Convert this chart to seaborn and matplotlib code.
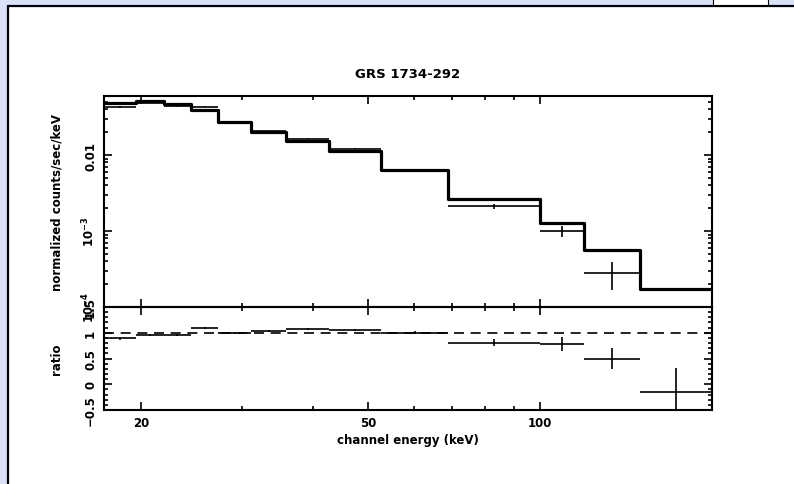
import numpy as np
import pandas as pd
import matplotlib
matplotlib.use("Agg")
import matplotlib.pyplot as plt
from matplotlib.patches import Rectangle
from matplotlib.ticker import FixedLocator, NullFormatter, FixedFormatter
import seaborn as sns

# ---------------- data ----------------
title = "GRS 1734-292"
bin_edges = [17.2, 19.6, 21.9, 24.4, 27.3, 31.1, 35.9, 42.6, 52.7, 68.9, 100.0, 119.3, 149.5, 200.0]
model_counts = [0.0486, 0.0516, 0.0468, 0.0396, 0.0270, 0.0200, 0.0155, 0.0114,
                0.00634, 0.00262, 0.00129, 0.000561, 0.000173]
data_counts = [0.0433, 0.0490, 0.0445, 0.0436, 0.0267, 0.0206, 0.0164, 0.0121,
               0.00634, 0.00212, 0.00101, 0.000280, np.nan]
data_err = [0.0015, 0.0010, 0.0009, 0.0008, 0.0005, 0.0004, 0.0003, 0.0002,
            0.0002, 0.00016, 0.000168, 0.000112, np.nan]
ratio = [0.89, 0.95, 0.95, 1.10, 0.99, 1.03, 1.08, 1.06, 1.00, 0.81, 0.78, 0.50, -0.16]
ratio_err = [0.03, 0.02, 0.02, 0.02, 0.02, 0.02, 0.02, 0.02, 0.03, 0.06, 0.13, 0.20, 0.47]

x_major = [20, 50, 100]
x_major_labels = ["20", "50", "100"]
x_minor = [30, 40, 60, 70, 80, 90, 200]
y1_major = [1e-4, 1e-3, 1e-2]
y1_labels = [r"$\mathbf{10^{-4}}$", r"$\mathbf{10^{-3}}$", "0.01"]
y2_major = [-0.5, 0, 0.5, 1, 1.5]
y2_labels = ["\u22120.5", "0", "0.5", "1", "1.5"]
y2_minor = [-0.4, -0.3, -0.2, -0.1, 0.1, 0.2, 0.3, 0.4, 0.6, 0.7, 0.8, 0.9,
            1.1, 1.2, 1.3, 1.4]

# ---------------- style ----------------
sns.set_theme(style="ticks")
plt.rcParams.update({
    "font.family": ["DejaVu Sans"],
    "font.weight": "bold",
    "axes.labelweight": "bold",
    "axes.titleweight": "bold",
    "axes.linewidth": 1.5,
    "axes.edgecolor": "black",
    "text.color": "black",
    "axes.labelcolor": "black",
    "xtick.color": "black",
    "ytick.color": "black",
    "axes.facecolor": "white",
})

W, H = 794, 485
fig = plt.figure(figsize=(W / 100, H / 100), dpi=100)
fig.patch.set_facecolor("#d9e2f9")
# white inner panel with black frame
fig.add_artist(Rectangle((8 / W, -0.05), 1.2, 1 - 7 / H + 0.05, transform=fig.transFigure,
                         facecolor="white", edgecolor="black", lw=1.6, zorder=-5))
# small box top-right
fig.add_artist(Rectangle((713 / W, 1 - 5.5 / H), 55 / W, 0.05, transform=fig.transFigure,
                         facecolor="white", edgecolor="black", lw=0.8, zorder=-4))

L, R = 104, 712
T1, B1, B2 = 97, 308, 411
ax1 = fig.add_axes([L / W, 1 - B1 / H, (R - L) / W, (B1 - T1) / H])
ax2 = fig.add_axes([L / W, 1 - B2 / H, (R - L) / W, (B2 - B1) / H])

edges = np.array(bin_edges)
centers = np.sqrt(edges[:-1] * edges[1:])
xerr = np.vstack([centers - edges[:-1], edges[1:] - centers])

# model step line
step_df = pd.DataFrame({"energy": edges, "counts": list(model_counts) + [model_counts[-1]]})
sns.lineplot(data=step_df, x="energy", y="counts", ax=ax1, color="black", lw=2.3,
             drawstyle="steps-post", estimator=None, sort=False, zorder=3)
# data crosses
ax1.errorbar(centers, data_counts, xerr=xerr, yerr=data_err, fmt="none",
             ecolor="black", elinewidth=1.2, capsize=0, zorder=4)

ax2.axhline(1.0, color="black", lw=1.2, dashes=(6, 4), zorder=2)
ax2.errorbar(centers, ratio, xerr=xerr, yerr=ratio_err, fmt="none",
             ecolor="black", elinewidth=1.2, capsize=0, zorder=4)

for ax in (ax1, ax2):
    ax.set_xscale("log")
    ax.set_xlim(bin_edges[0], bin_edges[-1])
    ax.xaxis.set_major_locator(FixedLocator(x_major))
    ax.xaxis.set_minor_locator(FixedLocator(x_minor))
    ax.xaxis.set_minor_formatter(NullFormatter())
    ax.tick_params(which="both", direction="in", top=True, right=True,
                   width=1.2, labelsize=8.5, pad=4)
    ax.tick_params(which="major", length=5.5)
    ax.tick_params(which="minor", length=3)
    ax.set_facecolor("none")
    for s in ax.spines.values():
        s.set_linewidth(1.5)

ax1.set_yscale("log")
ax1.set_ylim(1e-4, 0.06)
ax1.yaxis.set_major_locator(FixedLocator(y1_major))
ax1.yaxis.set_major_formatter(FixedFormatter(y1_labels))
ax1.yaxis.set_minor_locator(FixedLocator(
    [m * 10.0 ** e for e in (-4, -3, -2) for m in range(2, 10) if m * 10.0 ** e <= 0.06]))
ax1.yaxis.set_minor_formatter(NullFormatter())
ax1.xaxis.set_major_formatter(NullFormatter())
ax1.set_xlabel("")

ax2.set_ylim(-0.5, 1.5)
ax2.yaxis.set_major_locator(FixedLocator(y2_major))
ax2.yaxis.set_major_formatter(FixedFormatter(y2_labels))
ax2.yaxis.set_minor_locator(FixedLocator(y2_minor))
ax2.xaxis.set_major_formatter(FixedFormatter(x_major_labels))

for ax in (ax1, ax2):
    for lab in ax.get_yticklabels():
        lab.set_rotation(90)
        lab.set_verticalalignment("center")
    ax.tick_params(axis="y", pad=5)

ax1.set_ylabel("normalized counts/sec/keV", fontsize=8.5)
ax2.set_ylabel("ratio", fontsize=8.5)
ax1.yaxis.set_label_coords(-0.0674, 0.5)
ax2.yaxis.set_label_coords(-0.0674, 0.5)
ax2.set_xlabel("channel energy (keV)", fontsize=8.5, labelpad=3)
ax1.set_title(title, fontsize=9.5, pad=14)

fig.savefig("out.png", dpi=100, facecolor=fig.get_facecolor())
